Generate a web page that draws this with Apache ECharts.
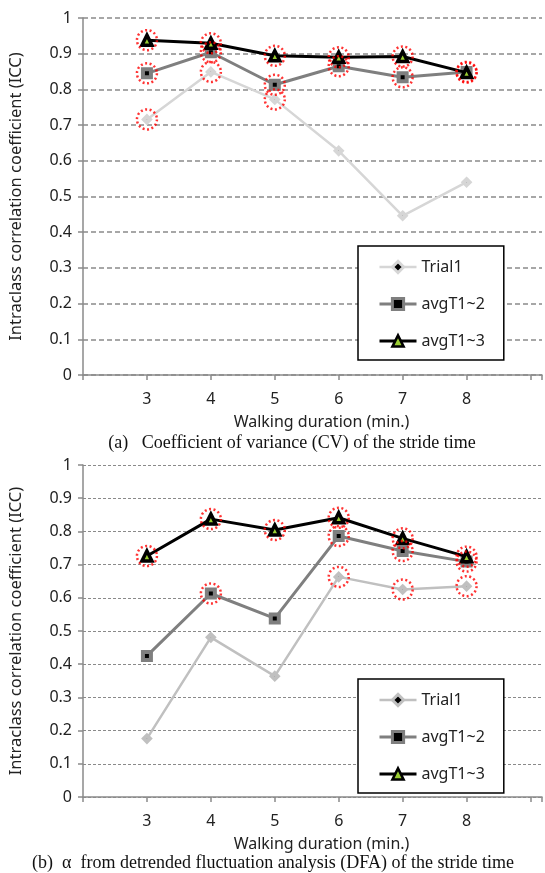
<!DOCTYPE html>
<html>
<head>
<meta charset="utf-8">
<script src="https://cdn.jsdelivr.net/npm/echarts@6/dist/echarts.min.js"></script>
<style>
  html, body { margin: 0; padding: 0; background: #fff; }
  #chart { width: 545px; height: 873px; }
</style>
</head>
<body>
<div id="chart"></div>
<script>
// walking duration (min.)
var durations = [3, 4, 5, 6, 7, 8];
var seriesNames = ["Trial1", "avgT1~2", "avgT1~3"];

// (a) CV of the stride time
var cvTrial1 = [0.716, 0.849, 0.772, 0.628, 0.446, 0.540];
var cvAvg12 = [0.845, 0.904, 0.813, 0.865, 0.834, 0.849];
var cvAvg13 = [0.938, 0.929, 0.894, 0.890, 0.892, 0.847];
// points circled in red (indexes)
var cvMarked = [[0, 1, 2], [0, 1, 2, 3, 4, 5], [0, 1, 2, 3, 4, 5]];

// (b) alpha from DFA of the stride time
var dfaTrial1 = [0.176, 0.481, 0.364, 0.663, 0.625, 0.635];
var dfaAvg12 = [0.425, 0.613, 0.538, 0.786, 0.741, 0.709];
var dfaAvg13 = [0.726, 0.837, 0.804, 0.841, 0.779, 0.724];
var dfaMarked = [[3, 4, 5], [1, 3, 4, 5], [0, 1, 2, 3, 4, 5]];

var yTicks = [0, 0.1, 0.2, 0.3, 0.4, 0.5, 0.6, 0.7, 0.8, 0.9, 1];

var captionA = "(a)   Coefficient of variance (CV) of the stride time";
var captionB = "(b)  \u03b1  from detrended fluctuation analysis (DFA) of the stride time";

var FONT = "Noto Sans";

function pairs(vals) {
  return vals.map(function (v, i) { return [durations[i], v]; });
}

var styles = [
  { color: "#d6d6d6", width: 2.5, symbol: "diamond", size: 6, fill: "#000", border: "#d6d6d6", bw: 4 },
  { color: "#7f7f7f", width: 3, symbol: "rect", size: 8, fill: "#000", border: "#7f7f7f", bw: 4 },
  { color: "#000", width: 3, symbol: "triangle", size: 10, fill: "#9acd32", border: "#000", bw: 3.5 }
];

function lineSeries(idx, vals, k, col) {
  var s = styles[idx];
  var c = col || s.color;
  return {
    type: "line",
    name: seriesNames[idx],
    xAxisIndex: k,
    yAxisIndex: k,
    data: pairs(vals),
    symbol: s.symbol,
    symbolSize: s.size,
    showSymbol: true,
    lineStyle: { color: c, width: s.width },
    itemStyle: { color: s.fill, borderColor: col || s.border, borderWidth: s.bw },
    z: 3 + idx
  };
}

function circleSeries(all, marked, k) {
  var data = [];
  marked.forEach(function (list, si) {
    list.forEach(function (i) { data.push([durations[i], all[si][i]]); });
  });
  return {
    type: "scatter",
    name: "marked",
    xAxisIndex: k,
    yAxisIndex: k,
    data: data,
    symbol: "circle",
    symbolSize: 20,
    itemStyle: { color: "transparent", borderColor: "#ff0000", borderWidth: 2.5, borderType: [2, 2.5] },
    z: 10,
    silent: true
  };
}

function xAxis(k) {
  return {
    type: "value",
    gridIndex: k,
    min: 2,
    max: 9.18,
    interval: 1,
    name: "Walking duration (min.)",
    nameLocation: "middle",
    nameGap: 39,
    nameTextStyle: { fontFamily: FONT, fontSize: 16, color: "#222", padding: [0, 0, 0, 18] },
    axisLine: { lineStyle: { color: "#8a8a8a", width: 1.5 } },
    axisTick: { show: true, length: 5, lineStyle: { color: "#8a8a8a", width: 1.5 } },
    axisLabel: {
      fontFamily: FONT, fontSize: 16, color: "#222", margin: 16,
      formatter: function (v) { return durations.indexOf(v) >= 0 ? String(v) : ""; }
    },
    splitLine: { show: false }
  };
}

function yAxis(k, dash, width) {
  return {
    type: "value",
    gridIndex: k,
    min: yTicks[0],
    max: yTicks[yTicks.length - 1],
    interval: 0.1,
    name: "Intraclass correlation coefficient (ICC)",
    nameLocation: "middle",
    nameGap: 58,
    nameTextStyle: { fontFamily: FONT, fontSize: 16.5, color: "#222" },
    axisLine: { show: true, lineStyle: { color: "#8a8a8a", width: 1.5 } },
    axisTick: { show: true, length: 5, lineStyle: { color: "#8a8a8a", width: 1.5 } },
    axisLabel: {
      fontFamily: FONT, fontSize: 16, color: "#222", margin: 11,
      formatter: function (v) { return String(Math.round(v * 10) / 10); }
    },
    splitLine: { show: true, lineStyle: { color: "#8a8a8a", width: width, type: dash } }
  };
}

function legend(top, trialCol) {
  return {
    orient: "vertical",
    left: 358,
    top: top,
    data: seriesNames.map(function (n, i) {
      var s = styles[i];
      var b = (i === 0 && trialCol) ? trialCol : s.border;
      return {
        name: n,
        itemStyle: { color: s.fill, borderColor: b, borderWidth: s.bw - 1 },
        lineStyle: { color: b, width: s.width }
      };
    }),
    itemWidth: 37,
    itemHeight: 14,
    itemGap: 21,
    padding: [13, 19, 11, 20],
    borderColor: "#000",
    borderWidth: 1.5,
    backgroundColor: "#fff",
    textStyle: { fontFamily: FONT, fontSize: 16, color: "#222" },
    selectedMode: false
  };
}

var chart = echarts.init(document.getElementById("chart"), null, { renderer: "canvas" });

var option = {
  backgroundColor: "#fff",
  animation: false,
  grid: [
    { left: 78, top: 18, right: 0, height: 357 },
    { left: 78, top: 465, right: 0, height: 332 }
  ],
  xAxis: [xAxis(0), xAxis(1)],
  yAxis: [yAxis(0, [5, 3], 1.5), yAxis(1, [3, 2], 1)],
  legend: [legend(246), legend(679, "#c0c0c0")],
  graphic: [
    { type: "text", x: 292, y: 443, style: { text: captionA, font: '18px "Liberation Serif"', fill: "#111", textAlign: "center", textVerticalAlign: "middle" } },
    { type: "text", x: 273, y: 863, style: { text: captionB, font: '18px "Liberation Serif"', fill: "#111", textAlign: "center", textVerticalAlign: "middle" } }
  ],
  series: [
    lineSeries(0, cvTrial1, 0),
    lineSeries(1, cvAvg12, 0),
    lineSeries(2, cvAvg13, 0),
    circleSeries([cvTrial1, cvAvg12, cvAvg13], cvMarked, 0),
    lineSeries(0, dfaTrial1, 1, "#c0c0c0"),
    lineSeries(1, dfaAvg12, 1),
    lineSeries(2, dfaAvg13, 1),
    circleSeries([dfaTrial1, dfaAvg12, dfaAvg13], dfaMarked, 1)
  ]
};

chart.setOption(option);
</script>
</body>
</html>
